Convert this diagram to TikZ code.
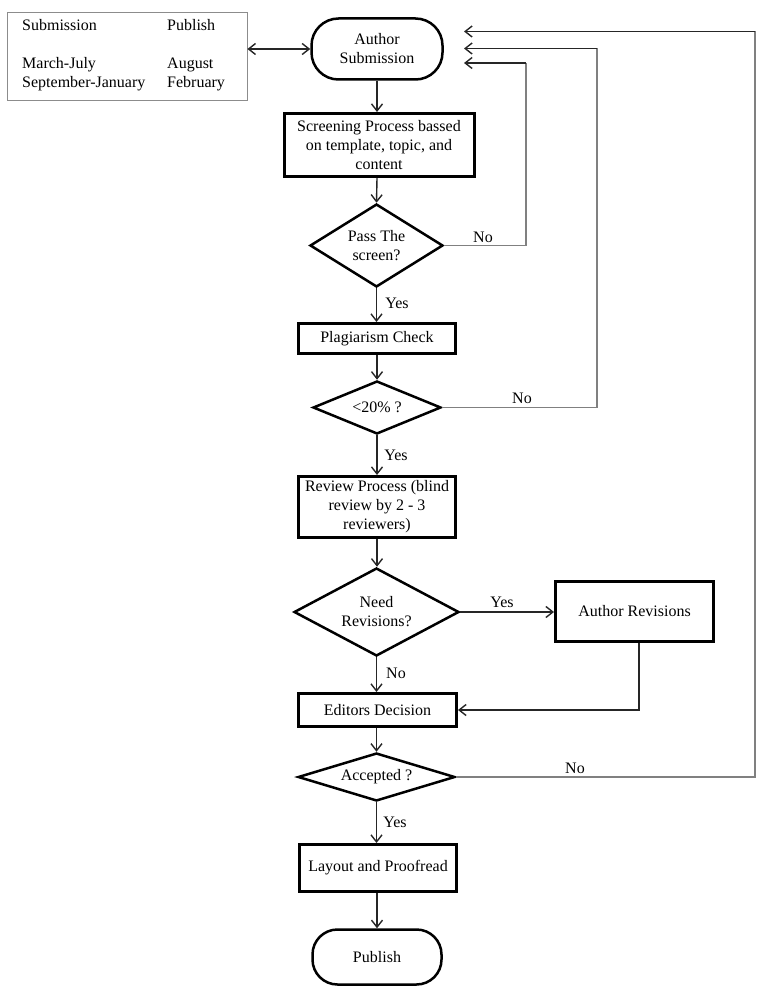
\documentclass[tikz,border=0pt]{standalone}
\usepackage{fontspec}
\setmainfont{Liberation Serif}
\usetikzlibrary{shapes.geometric,arrows.meta}
\begin{document}
\begin{tikzpicture}[x=1pt,y=-1pt,
  font=\fontsize{16}{19}\selectfont,
  proc/.style={draw, line width=3pt, inner sep=0pt, align=center},
  term/.style={draw, line width=2.5pt, inner sep=0pt, align=center},
  dec/.style={draw, diamond, line width=2.5pt, inner sep=0pt, align=center},
  tip/.style={-{Straight Barb[length=7pt,width=11pt]}},
  flow/.style={draw=black!85, line width=1.4pt, tip},
  back/.style={draw=black!50, line width=1.2pt},
  lbl/.style={inner sep=0pt}
]
\useasboundingbox (0,0) rectangle (777,1000);

% legend
\node[draw=black!45, line width=0.8pt, minimum width=240pt, minimum height=88pt, inner sep=0pt] (legend) at (127,56) {};
\node[lbl, anchor=base west] (l1) at (22,31) {Submission};
\node[lbl, anchor=base west] (l2) at (167,31) {Publish};
\node[lbl, anchor=base west] (l3) at (22,69) {March-July};
\node[lbl, anchor=base west] (l4) at (22,88) {September-January};
\node[lbl, anchor=base west] (l5) at (167,69) {August};
\node[lbl, anchor=base west] (l6) at (167,88) {February};

% main column
\node[term, rounded corners=27pt, minimum width=131pt, minimum height=61pt] (auth) at (377,49) {Author\\Submission};
\node[proc, minimum width=190pt, minimum height=63pt] (screen) at (379,145) {Screening Process bassed\\on template, topic, and\\content};
\node[dec, aspect=1.6, minimum width=133pt, minimum height=83pt] (pass) at (376.5,245.5) {Pass The\\screen?};
\node[proc, minimum width=157pt, minimum height=30pt] (plag) at (377,338.5) {Plagiarism Check};
\node[dec, aspect=2.4, minimum width=128pt, minimum height=53pt] (pct) at (377,407.5) {<20\% ?};
\node[proc, minimum width=157pt, minimum height=61pt] (review) at (377,507) {Review Process (blind\\review by 2 - 3\\reviewers)};
\node[dec, aspect=1.85, minimum width=165pt, minimum height=88pt] (need) at (376.5,612) {Need\\Revisions?};
\node[proc, minimum width=158pt, minimum height=60pt] (arev) at (634.5,611.5) {Author Revisions};
\node[proc, minimum width=158pt, minimum height=33pt] (edit) at (377.5,710) {Editors Decision};
\node[dec, aspect=3.2, minimum width=157pt, minimum height=48pt] (acc) at (376.5,777) {Accepted ?};
\node[proc, minimum width=157pt, minimum height=47pt] (layout) at (378,868) {Layout and Proofread};
\node[term, rounded corners=25pt, minimum width=129pt, minimum height=55pt] (pub) at (377,957) {Publish};

% labels
\node[lbl] (n1) at (483,237) {No};
\node[lbl] (y1) at (397,303) {Yes};
\node[lbl] (n2) at (522,398) {No};
\node[lbl] (y2) at (396,455) {Yes};
\node[lbl] (y3) at (502,602) {Yes};
\node[lbl] (n3) at (396,673) {No};
\node[lbl] (n4) at (575,768) {No};
\node[lbl] (y4) at (395,822) {Yes};

% connectors
\draw[draw=black!85, line width=1.4pt, {Straight Barb[length=7pt,width=11pt]}-{Straight Barb[length=7pt,width=11pt]}] (legend.east |- auth.west) -- (auth.west);
\draw[flow] (auth.south) -- (auth.south |- screen.north);
\draw[flow] (screen.south -| auth.south) -- (pass.north);
\draw[flow] (pass.south) -- (pass.south |- plag.north);
\draw[flow] (plag.south) -- (pct.north);
\draw[flow] (pct.south) -- (pct.south |- review.north);
\draw[flow] (review.south) -- (review.south |- need.north);
\draw[flow] (need.south) -- (need.south |- edit.north);
\draw[flow] (edit.south -| acc.north) -- (acc.north);
\draw[flow] (acc.south) -- (acc.south |- layout.north);
\draw[flow] (layout.south -| pub.north) -- (pub.north);
\draw[flow] (need.east) -- (need.east -| arev.west);
\draw[flow] ([xshift=4.5pt]arev.south) |- (edit.east);

% return paths
\coordinate (in1) at (464,31.5);
\coordinate (in2) at (464,48.5);
\coordinate (in3) at (464,63);
\coordinate (c1) at (526,63);
\coordinate (c2) at (597,48.5);
\coordinate (c3) at (755,31.5);
\draw[back] (pass.east) -| (c1);
\draw[flow] (c1) -- (in3);
\draw[back] (pct.east) -| (c2);
\draw[flow] (c2) -- (in2);
\draw[back] (acc.east) -| (c3);
\draw[flow] (c3) -- (in1);
\end{tikzpicture}
\end{document}
